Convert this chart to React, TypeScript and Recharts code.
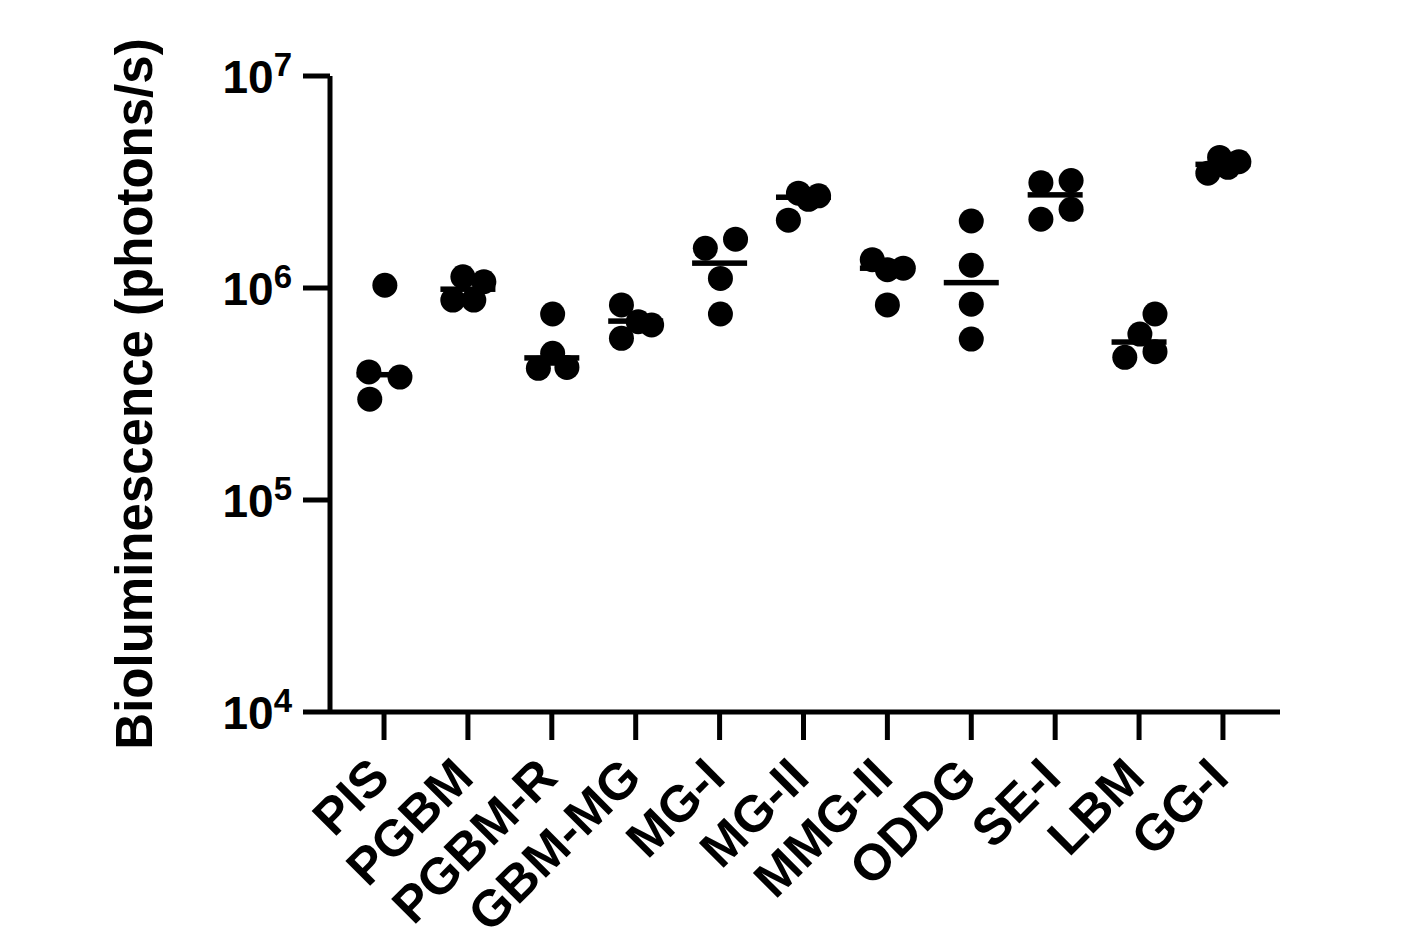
import React from 'react';
import { ScatterChart, Scatter, XAxis, YAxis } from 'recharts';

const FONT = '"Liberation Sans", Arial, Helvetica, sans-serif';

const categories = ['PIS', 'PGBM', 'PGBM-R', 'GBM-MG', 'MG-I', 'MG-II', 'MMG-II', 'ODDG', 'SE-I', 'LBM', 'GG-I'];

// four replicate readings per group (photons/s)
const values: number[][] = [
    [1.03e6, 4.02e5, 3.8e5, 2.99e5],
    [1.13e6, 1.07e6, 8.77e5, 8.77e5],
    [7.54e5, 4.92e5, 4.18e5, 4.22e5],
    [8.32e5, 6.93e5, 6.69e5, 5.79e5],
    [1.54e6, 1.7e6, 1.11e6, 7.54e5],
    [2.09e6, 2.8e6, 2.62e6, 2.72e6],
    [1.36e6, 1.22e6, 1.24e6, 8.32e5],
    [2.07e6, 1.28e6, 8.38e5, 5.74e5],
    [3.14e6, 3.21e6, 2.11e6, 2.35e6],
    [7.54e5, 6.06e5, 4.71e5, 5.01e5],
    [4.13e6, 3.94e6, 3.48e6, 3.71e6],
];

// horizontal scatter of the replicates around each group
const jitter: number[][] = [
    [0.01, -0.18, 0.19, -0.17],
    [-0.06, 0.19, -0.18, 0.07],
    [0.01, 0.01, -0.16, 0.18],
    [-0.17, 0.03, 0.19, -0.17],
    [-0.17, 0.19, 0.01, 0.01],
    [-0.18, -0.06, 0.06, 0.18],
    [-0.18, 0, 0.19, 0],
    [0, 0, 0, 0],
    [-0.17, 0.19, -0.17, 0.19],
    [0.19, 0.01, -0.17, 0.19],
    [-0.04, 0.19, -0.18, 0.06],
];

// median bars
const medians = [3.9e5, 9.87e5, 4.68e5, 6.98e5, 1.31e6, 2.68e6, 1.24e6, 1.06e6, 2.75e6, 5.56e5, 3.83e6];

const yTicks = [1e4, 1e5, 1e6, 1e7];
const xTicks = categories.map((_, i) => i);

const points = categories.flatMap((_, i) => values[i].map((v, j) => ({ x: i + jitter[i][j], y: v })));
const medianPoints = medians.map((m, i) => ({ x: i, y: m }));

const Dot = (props: any) => {
    const { cx, cy } = props;
    if (cx == null || cy == null) return null;
    return <circle cx={cx} cy={cy} r={12.5} fill="#000" />;
};

const MedianBar = (props: any) => {
    const { cx, cy } = props;
    if (cx == null || cy == null) return null;
    return <rect x={cx - 27.5} y={cy - 2.75} width={55} height={5.5} fill="#000" />;
};

const YTick = ({ x, y, payload }: any) => {
    const exp = Math.round(Math.log10(payload.value));
    return (
        <text x={x - 11} y={y + 17} textAnchor="end" fontFamily={FONT} fontWeight="bold" fill="#000">
            <tspan fontSize={46}>10</tspan>
            <tspan fontSize={33} dy={-17}>{exp}</tspan>
        </text>
    );
};

const XTick = ({ x, y, payload }: any) => {
    const ax = x + 8;
    const ay = y + 40;
    return (
        <text
            x={ax}
            y={ay}
            textAnchor="end"
            fontFamily={FONT}
            fontWeight="bold"
            fontSize={51}
            fill="#000"
            transform={`rotate(-45 ${ax} ${ay})`}
        >
            {categories[payload.value]}
        </text>
    );
};

const YLabel = ({ viewBox }: any) => {
    const lx = viewBox.x + 52;
    const ly = viewBox.y + viewBox.height / 2;
    return (
        <text
            x={lx}
            y={ly}
            textAnchor="middle"
            fontFamily={FONT}
            fontWeight="bold"
            fontSize={51}
            fill="#000"
            transform={`rotate(-90 ${lx} ${ly})`}
        >
            Bioluminescence (photons/s)
        </text>
    );
};

const axisStroke = { stroke: '#000', strokeWidth: 5 };

export default function App() {
    return (
        <div style={{ position: 'absolute', left: 0, top: 0, background: '#fff' }}>
            <ScatterChart width={1404} height={942} margin={{ top: 76, right: 124, bottom: 30, left: 100 }}>
                <XAxis
                    type="number"
                    dataKey="x"
                    domain={[-0.644, 10.68]}
                    ticks={xTicks}
                    interval={0}
                    allowDataOverflow
                    height={200}
                    tickSize={28}
                    tickMargin={0}
                    axisLine={axisStroke}
                    tickLine={axisStroke}
                    tick={<XTick />}
                />
                <YAxis
                    type="number"
                    dataKey="y"
                    scale="log"
                    domain={[1e4, 1e7]}
                    ticks={yTicks}
                    interval={0}
                    allowDataOverflow
                    width={230}
                    tickSize={27}
                    tickMargin={0}
                    axisLine={axisStroke}
                    tickLine={axisStroke}
                    tick={<YTick />}
                    label={{ content: <YLabel /> }}
                />
                <Scatter data={medianPoints} shape={<MedianBar />} isAnimationActive={false} />
                <Scatter data={points} shape={<Dot />} isAnimationActive={false} />
            </ScatterChart>
        </div>
    );
}
